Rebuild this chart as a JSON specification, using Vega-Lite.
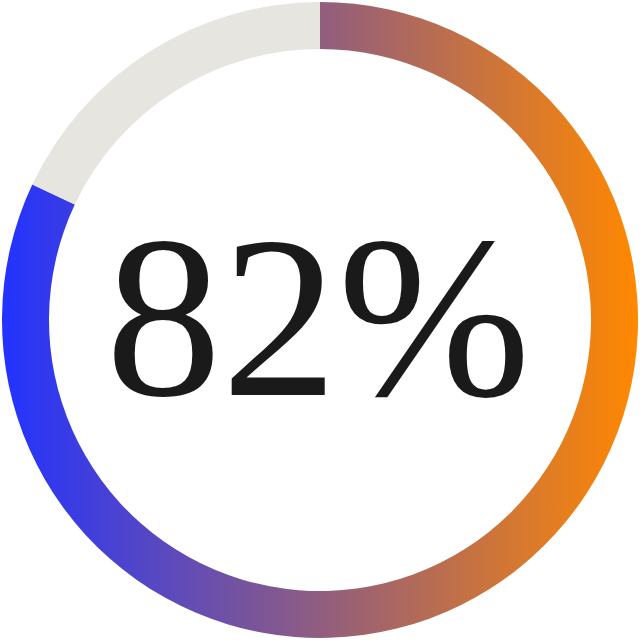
{
  "$schema": "https://vega.github.io/schema/vega-lite/v6.json",
  "width": 640,
  "height": 640,
  "autosize": {"type": "fit", "contains": "padding"},
  "padding": 0,
  "background": "white",
  "config": {"view": {"stroke": null}},
  "layer": [
    {
      "data": {
        "values": [
          {"part": "done", "value": 82, "rank": 1},
          {"part": "rest", "value": 18, "rank": 2}
        ]
      },
      "mark": {"type": "arc", "outerRadius": 318, "innerRadius": 271},
      "encoding": {
        "theta": {"field": "value", "type": "quantitative", "stack": true},
        "order": {"field": "rank", "type": "quantitative"},
        "color": {
          "condition": {
            "test": "datum.part === 'done'",
            "value": {
              "gradient": "linear",
              "x1": 0, "y1": 0, "x2": 1, "y2": 0,
              "stops": [
                {"offset": 0, "color": "#2233ff"},
                {"offset": 1, "color": "#ff8800"}
              ]
            }
          },
          "value": "#e6e5e0"
        }
      }
    },
    {
      "data": {"values": [{"label": "82%"}]},
      "mark": {
        "type": "text",
        "font": "'Liberation Serif', 'Times New Roman', Times",
        "fontSize": 232,
        "color": "#1a1a1a",
        "align": "center",
        "baseline": "alphabetic",
        "dx": -2,
        "dy": 75
      },
      "encoding": {
        "text": {"field": "label", "type": "nominal"}
      }
    }
  ]
}
